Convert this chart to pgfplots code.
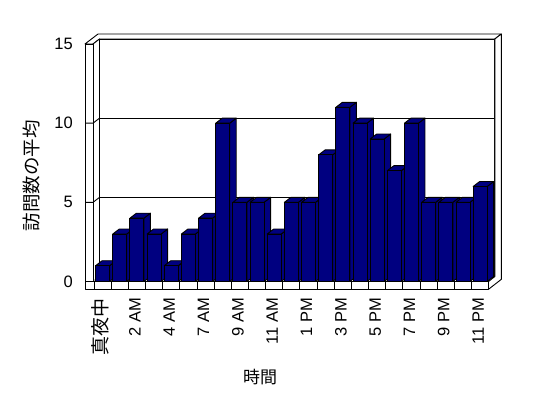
\documentclass[border=0pt]{standalone}
\usepackage{fontspec}
\setmainfont{Liberation Sans}
\newfontfamily\cjk{Noto Sans CJK JP}
\usepackage{pgfplots}
\usepackage{pgfplotstable}
\pgfplotsset{compat=1.18}
\definecolor{barblue}{RGB}{0,0,128}

\pgfplotstableread{
idx v
0 1
1 3
2 4
3 3
4 1
5 3
6 4
7 10
8 5
9 5
10 3
11 5
12 5
13 8
14 11
15 10
16 9
17 7
18 10
19 5
20 5
21 5
22 6
}\visits

\begin{document}
\begin{tikzpicture}
\path[use as bounding box] (0,0) rectangle (548bp,398bp);
\begin{axis}[
  at={(85bp,108.7bp)}, anchor=south west,
  scale only axis, width=416.3bp, height=255.3bp,
  xmin=-1.026, xmax=23.234, ymin=-0.49, ymax=15.63,
  clip=false,
  axis line style={draw=none},
  major tick length=0pt,
  tick style={draw=none},
  ytick={0,5,10,15},
  xtick={0,2,...,22},
  xticklabels={{\cjk\fontsize{19bp}{21bp}\selectfont 真夜中},2 AM,4 AM,7 AM,9 AM,11 AM,1 PM,3 PM,5 PM,7 PM,9 PM,11 PM},
  /pgf/number format/assume math mode=true,
  yticklabel style={font=\fontsize{16.5bp}{19bp}\selectfont, anchor=east, inner sep=0pt},
  yticklabel shift=12bp,
  xticklabel style={font=\fontsize{16.5bp}{19bp}\selectfont, xshift=-2bp, rotate=90, anchor=east, inner sep=0pt},
  xticklabel shift=8.5bp,
  ylabel={訪問数の平均},
  xlabel={時間},
  every axis y label/.style={at={(rel axis cs:-0.1297,0.4438)}, rotate=90, anchor=center, font=\cjk\fontsize{18.5bp}{21bp}\selectfont},
  every axis x label/.style={at={(rel axis cs:0.4204,-0.3435)}, anchor=center, font=\cjk\fontsize{17bp}{20bp}\selectfont},
  wall/.style={draw=black, line width=0.9bp, fill=white, line join=round},
  edge/.style={draw=black, line width=0.9bp},
  barface/.style={draw=black, line width=0.9bp, fill=barblue, line join=round},
]
% back wall
\addplot[wall] coordinates {(-0.18,0.315) (22.855,0.315) (22.855,15.315) (-0.18,15.315)} -- cycle;
\addplot[edge] coordinates {(-0.18,5.315) (22.855,5.315)};
\addplot[edge] coordinates {(-0.18,10.315) (22.855,10.315)};
% top of walls
\addplot[wall] coordinates {(-1.026,15) (-0.559,15) (-0.18,15.315) (22.855,15.315) (23.234,15.63) (-0.268,15.63)} -- cycle;
% left wall inner side
\addplot[wall] coordinates {(-0.559,0) (-0.18,0.315) (-0.18,15.315) (-0.559,15)} -- cycle;
% left wall front face
\addplot[wall] coordinates {(-1.026,0) (-0.559,0) (-0.559,15) (-1.026,15)} -- cycle;
\addplot[edge] coordinates {(-1.026,5) (-0.559,5) (-0.18,5.315)};
\addplot[edge] coordinates {(-1.026,10) (-0.559,10) (-0.18,10.315)};
% floor top
\addplot[fill=white, draw=none] coordinates {(-0.559,0) (22.488,0) (22.855,0.315) (-0.18,0.315)} -- cycle;
% floor front strip
\addplot[wall] coordinates {(-1.026,-0.49) (22.488,-0.49) (22.488,0) (-1.026,0)} -- cycle;
\pgfplotsinvokeforeach{0,...,22}{%
  \pgfmathsetmacro\sx{#1-0.5}%
  \edef\cmd{\noexpand\addplot[edge] coordinates {(\sx,-0.49) (\sx,0)};}\cmd
}
% right side
\addplot[wall] coordinates {(22.488,0) (22.855,0.315) (22.855,15.315) (23.234,15.63) (23.234,0.139) (22.488,-0.49)} -- cycle;
% bars
\pgfplotsinvokeforeach{0,...,22}{%
  \pgfplotstablegetelem{#1}{v}\of\visits
  \let\barval\pgfplotsretval
  \pgfmathsetmacro\xl{#1-0.408}%
  \pgfmathsetmacro\xr{#1+0.408}%
  \pgfmathsetmacro\xld{#1-0.408+0.379}%
  \pgfmathsetmacro\xrd{#1+0.408+0.379}%
  \pgfmathsetmacro\vt{\barval+0.315}%
  \edef\cmd{%
    \noexpand\addplot[barface] coordinates {(\xr,0) (\xrd,0.315) (\xrd,\vt) (\xr,\barval)} -- cycle;
    \noexpand\addplot[barface] coordinates {(\xl,\barval) (\xr,\barval) (\xrd,\vt) (\xld,\vt)} -- cycle;
    \noexpand\addplot[barface] coordinates {(\xl,0) (\xr,0) (\xr,\barval) (\xl,\barval)} -- cycle;
  }\cmd
}
\end{axis}
\end{tikzpicture}
\end{document}
